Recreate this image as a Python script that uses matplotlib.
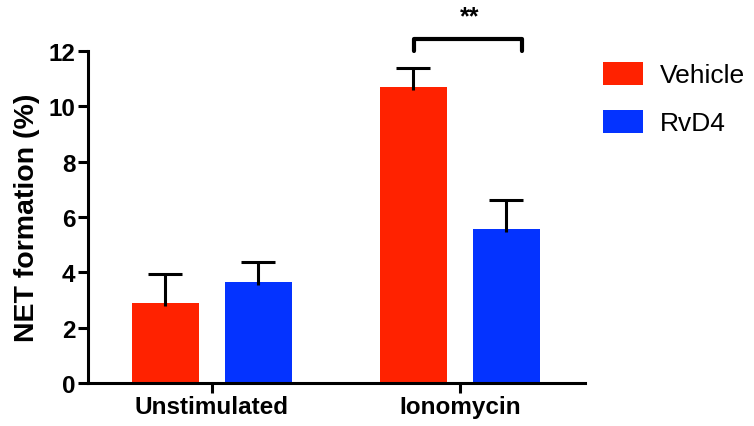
import numpy as np
import matplotlib.pyplot as plt

plt.rcParams['font.family'] = ['Liberation Sans', 'DejaVu Sans']

categories = ['Unstimulated', 'Ionomycin']
series_names = ['Vehicle', 'RvD4']
vehicle_mean = [2.89, 10.70]
vehicle_err = [1.05, 0.70]
rvd4_mean = [3.65, 5.57]
rvd4_err = [0.73, 1.05]
colors = ['#FF2200', '#0433FF']

x = np.arange(len(categories))
offset = 0.1875
width = 0.27

fig = plt.figure(figsize=(7.54, 4.27), dpi=100)
ax = fig.add_axes([88 / 754, 43 / 427, 497 / 754, 332 / 427])

for means, errs, shift, color, name in [
    (vehicle_mean, vehicle_err, -offset, colors[0], series_names[0]),
    (rvd4_mean, rvd4_err, offset, colors[1], series_names[1]),
]:
    ax.bar(x + shift, means, width, color=color, label=name, zorder=2)
    eb = ax.errorbar(x + shift, np.array(means) - 0.1, yerr=[np.zeros(len(errs)), np.array(errs) + 0.1],
                     fmt='none', ecolor='black', elinewidth=2.2, capsize=12, capthick=2.2, zorder=3)
    # upper caps only
    eb[1][0].set_visible(False)

# significance bracket over Ionomycin
y_low, y_high = 12.0, 12.43
x_left, x_right = x[1] - offset + 0.003, x[1] + 0.25
ax.plot([x_left, x_left, x_right, x_right], [y_low, y_high, y_high, y_low],
        color='black', lw=3, solid_capstyle='round', clip_on=False, zorder=4)
ax.text((x_left + x_right) / 2 + 0.005, 13.25, '**', ha='center', va='center',
        fontsize=18, fontweight='bold', clip_on=False)

ax.set_xlim(-0.5, 1.505)
ax.set_ylim(0, 12)
ax.set_yticks(np.arange(0, 13, 2))
ax.set_xticks(x)
ax.set_xticklabels(categories, fontsize=17.5, fontweight='bold')
for lab in ax.get_yticklabels():
    lab.set_fontsize(17.5)
    lab.set_fontweight('bold')
ax.set_ylabel('NET formation (%)', fontsize=20.5, fontweight='bold', labelpad=6)

for side in ['top', 'right']:
    ax.spines[side].set_visible(False)
for side in ['left', 'bottom']:
    ax.spines[side].set_linewidth(2.2)
ax.tick_params(axis='both', width=2.2, length=7, color='black', pad=2)

ax.legend(loc='upper left', bbox_to_anchor=(603 / 754, 1 - 63 / 427),
          bbox_transform=fig.transFigure, frameon=False, fontsize=19,
          handlelength=1.5, handleheight=0.95, handletextpad=0.65,
          labelspacing=0.85, borderpad=0, borderaxespad=0)

fig.savefig('out.png', dpi=100)
